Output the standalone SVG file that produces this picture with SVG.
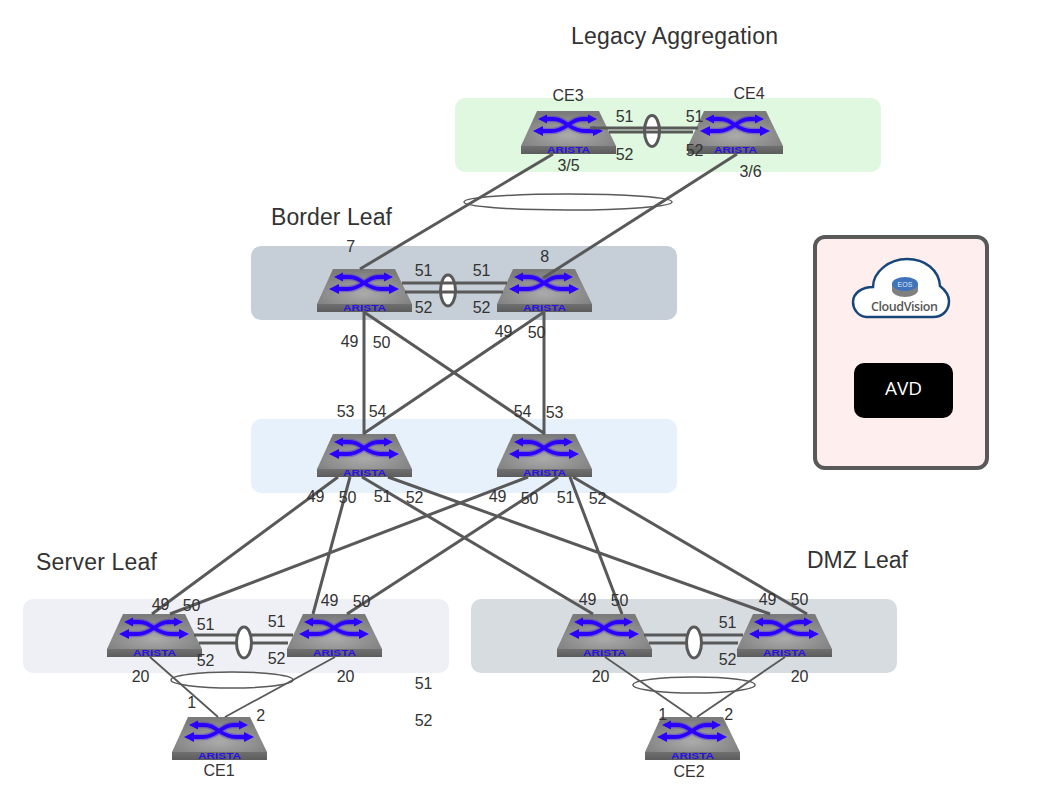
<svg xmlns="http://www.w3.org/2000/svg" width="1062" height="796" viewBox="0 0 1062 796">
<style>
text{font-family:"Liberation Sans",Arial,sans-serif;fill:#333333}
.p{font-size:16px;text-anchor:middle}
.t{font-size:23px}
.c{fill:none;stroke:#595959;stroke-width:3}
.n{fill:none;stroke:#595959;stroke-width:1.8}
.r{fill:none;stroke:#595959;stroke-width:1.5}
.lag{fill:#fff;stroke:#595959;stroke-width:3}
.brand{font-size:8.5px;font-weight:bold;fill:#2a10e8;text-anchor:middle}
.glow{fill:none;stroke:#2b00ff;stroke-width:6.5;opacity:.3}
.ar{fill:none;stroke:#2b00ff;stroke-width:3.8}
.ah{fill:#2b00ff}
</style>
<defs>
<radialGradient id="top" cx="50%" cy="70%" r="65%"><stop offset="0" stop-color="#ababab"/><stop offset="1" stop-color="#7b7b7b"/></radialGradient>
<linearGradient id="front" x1="0" y1="0" x2="0" y2="1"><stop offset="0" stop-color="#707070"/><stop offset="1" stop-color="#5c5c5c"/></linearGradient>
<g id="sw">
<polygon points="16,0 78,0 95,35 0,35" fill="url(#top)"/>
<rect x="0" y="35" width="95" height="8" fill="url(#front)"/>
<path class="glow" d="M24,8 H32 C38,8 41,10 47,14 C53,18 57,20 64,20 H76 M19,20 H31 C37,20 41,18 47,14 C53,10 56,8 62,8 H70"/>
<path class="ar" d="M24,8 H32 C38,8 41,10 47,14 C53,18 57,20 64,20 H76 M19,20 H31 C37,20 41,18 47,14 C53,10 56,8 62,8 H70"/>
<polygon class="ah" points="17,8 26,3.500 26,12.500"/>
<polygon class="ah" points="76,8 67,3.500 67,12.500"/>
<polygon class="ah" points="12,20 22,15 22,25"/>
<polygon class="ah" points="82,20 72,15 72,25"/>
<text class="brand" x="47.500" y="42" textLength="43" lengthAdjust="spacingAndGlyphs">ARISTA</text>
</g>
</defs>
<g id="bands">
<rect x="455" y="98" width="426" height="74" rx="10" fill="#dff8df"/>
<rect x="251" y="246" width="426" height="74" rx="10" fill="#c6ced7"/>
<rect x="251" y="419" width="426" height="74" rx="10" fill="#e6f1fc"/>
<rect x="23" y="599" width="426" height="74" rx="10" fill="#eef0f5"/>
<rect x="471" y="599" width="426" height="74" rx="10" fill="#d7dce1"/>
</g>
<g id="titles">
<text class="t" x="571" y="44" textLength="207">Legacy Aggregation</text>
<text class="t" x="271" y="225" textLength="121">Border Leaf</text>
<text class="t" x="36" y="570" textLength="121">Server Leaf</text>
<text class="t" x="807" y="568" textLength="101">DMZ Leaf</text>
</g>
<g id="mgmt">
<rect x="815" y="237" width="172" height="231" rx="10" fill="#ffeeee" stroke="#595959" stroke-width="4"/>
<g id="cloudvision">
<path d="M866,317 C857,316 853,308 853,302 C853,293 862,287 873,287 C873,272 889,259 907,259 C925,259 939,270 940,286 C945,290 949,295 949,301 C949,311 942,317 933,317 Z" fill="#fff" stroke="#17467a" stroke-width="2.500"/>
<path d="M892,284 V290 A13,7 0 0 0 918,290 V284 Z" fill="#808080"/>
<ellipse cx="905" cy="284" rx="13" ry="7" fill="#3f74bd"/>
<text x="905" y="286.500" font-size="7" text-anchor="middle" style="fill:#dfe9f7">EOS</text>
<text x="904.500" y="311" font-size="12.500" font-weight="600" text-anchor="middle" textLength="67" style="font-family:'Open Sans',sans-serif;fill:#555555">CloudVision</text>
</g>
<g id="avd">
<rect x="854" y="363" width="99" height="55" rx="10" fill="#000"/>
<text x="903.500" y="395" font-size="19" text-anchor="middle" style="font-family:'Open Sans',sans-serif;fill:#fff">AVD</text>
</g>
</g>
<g id="ce3"><use href="#sw" x="521" y="111"/><text class="p" x="568" y="101">CE3</text></g>
<g id="ce4"><use href="#sw" x="688" y="111"/><text class="p" x="749" y="99">CE4</text></g>
<g id="border1"><use href="#sw" x="317" y="269"/></g>
<g id="border2"><use href="#sw" x="497" y="269"/></g>
<g id="spine1"><use href="#sw" x="317" y="434"/></g>
<g id="spine2"><use href="#sw" x="497" y="434"/></g>
<g id="server1"><use href="#sw" x="107" y="614"/></g>
<g id="server2"><use href="#sw" x="287" y="614"/></g>
<g id="dmz1"><use href="#sw" x="557" y="614"/></g>
<g id="dmz2"><use href="#sw" x="737" y="614"/></g>
<g id="ce1"><use href="#sw" x="172" y="717"/><text class="p" x="219" y="776">CE1</text></g>
<g id="ce2"><use href="#sw" x="645" y="717"/><text class="p" x="689" y="777">CE2</text></g>
<g id="connectors">
<path class="c" d="M553,154 L360,269 M737,154 L543,278"/>
<path class="c" d="M364,312 V434 M364,312 L545,434 M544,312 L363,434 M544,312 V434"/>
<path class="c" d="M338,477 L152,614 M350,477 L313,614 M362,477 L593,614 M388,477 L770,614 M528,477 L170,614 M558,477 L347,614 M570,477 L622,614 M573,477 L807,614"/>
<path class="n" d="M150,657 L218,717 M335,657 L225,717 M605,657 L692,717 M785,657 L697,717"/>
<ellipse class="r" cx="568" cy="202" rx="104" ry="8"/>
<ellipse class="r" cx="232" cy="680" rx="61" ry="8"/>
<ellipse class="r" cx="694" cy="685" rx="61" ry="8"/>
<path class="c" d="M194,635 H293 M199,643 H288 M644,635 H743 M649,643 H738"/>
<ellipse class="lag" cx="244" cy="642.500" rx="7.500" ry="15.500"/>
<ellipse class="lag" cx="694" cy="642.500" rx="7.500" ry="15.500"/>
<ellipse class="lag" cx="652" cy="131" rx="7.500" ry="15.500"/>
<ellipse class="lag" cx="448" cy="290.500" rx="7.500" ry="15.500"/>
<path class="c" d="M590,128 H698 M609,132 H693 M402,283 H507 M405,292 H503"/>
</g>
<g id="labels" transform="translate(.6,0)">
<text class="p" x="624" y="122">51</text><text class="p" x="694" y="122">51</text>
<text class="p" x="624" y="160">52</text><text class="p" x="694" y="156">52</text>
<text class="p" x="568" y="171">3/5</text><text class="p" x="750" y="177">3/6</text>
<text class="p" x="350" y="252">7</text><text class="p" x="544" y="262">8</text>
<text class="p" x="423" y="276">51</text><text class="p" x="481" y="276">51</text>
<text class="p" x="423" y="313">52</text><text class="p" x="481" y="313">52</text>
<text class="p" x="349" y="347">49</text><text class="p" x="381" y="348">50</text>
<text class="p" x="503" y="337">49</text><text class="p" x="536" y="338">50</text>
<text class="p" x="345" y="417">53</text><text class="p" x="377" y="417">54</text>
<text class="p" x="522" y="417">54</text><text class="p" x="554" y="418">53</text>
<text class="p" x="315" y="502">49</text><text class="p" x="347" y="503">50</text>
<text class="p" x="382" y="502">51</text><text class="p" x="414" y="503">52</text>
<text class="p" x="497" y="502">49</text><text class="p" x="529" y="504">50</text>
<text class="p" x="565" y="503">51</text><text class="p" x="597" y="504">52</text>
<text class="p" x="160" y="610">49</text><text class="p" x="191" y="611">50</text>
<text class="p" x="205" y="630">51</text><text class="p" x="276" y="627">51</text>
<text class="p" x="205" y="666">52</text><text class="p" x="276" y="664">52</text>
<text class="p" x="329" y="606">49</text><text class="p" x="361" y="607">50</text>
<text class="p" x="587" y="605">49</text><text class="p" x="619" y="606">50</text>
<text class="p" x="727" y="628">51</text><text class="p" x="727" y="665">52</text>
<text class="p" x="767" y="605">49</text><text class="p" x="799" y="605">50</text>
<text class="p" x="140" y="682">20</text><text class="p" x="345" y="682">20</text>
<text class="p" x="600" y="682">20</text><text class="p" x="799" y="682">20</text>
<text class="p" x="423" y="689">51</text><text class="p" x="423" y="726">52</text>
<text class="p" x="191" y="708">1</text><text class="p" x="260" y="721">2</text>
<text class="p" x="662" y="720">1</text><text class="p" x="728" y="720">2</text>
</g>
</svg>
